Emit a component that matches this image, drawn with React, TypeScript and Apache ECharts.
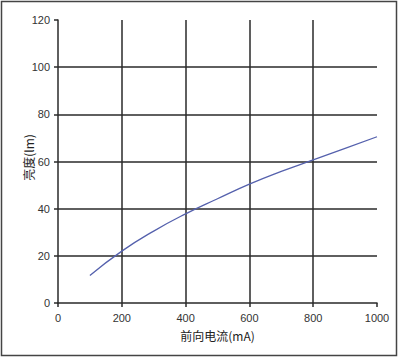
import React, { useEffect, useRef } from "react";
import * as echarts from "echarts";

const currents = [100, 200, 300, 400, 500, 600, 700, 800, 900, 1000];
const brightness = [11.7, 22, 30.5, 37.8, 44.2, 50.4, 55.8, 60.7, 65.6, 70.5];

export default function App() {
  const ref = useRef<HTMLDivElement>(null);
  useEffect(() => {
    if (!ref.current) return;
    const chart = echarts.init(ref.current, null, { renderer: "svg" });
    const axisColor = "#2a2a2a";
    chart.setOption({
      animation: false,
      backgroundColor: "#ffffff",
      grid: { left: 58, right: 23, top: 20, bottom: 55 },
      graphic: [
        {
          type: "rect",
          shape: { x: 1.5, y: 1.5, width: 395, height: 354 },
          style: { fill: "none", stroke: "#444", lineWidth: 1.5 },
          silent: true,
        },
      ],
      xAxis: {
        type: "value",
        min: 0,
        max: 1000,
        interval: 200,
        name: "前向电流(mA)",
        nameLocation: "middle",
        nameGap: 26,
        nameMoveOverlap: false,
        nameTextStyle: { fontFamily: "Noto Sans CJK SC", fontSize: 12, color: "#222" },
        axisLine: { show: true, lineStyle: { color: axisColor, width: 1.5 } },
        axisTick: { show: true, length: 4, lineStyle: { color: axisColor, width: 1.5 } },
        axisLabel: {
          margin: 9,
          fontFamily: "Liberation Sans",
          fontSize: 11,
          color: "#333",
          formatter: (v: number) => String(v),
        },
        splitLine: { show: true, showMinLine: false, showMaxLine: false, lineStyle: { color: axisColor, width: 1.5 } },
      },
      yAxis: {
        type: "value",
        min: 0,
        max: 120,
        interval: 20,
        name: "亮度(lm)",
        nameLocation: "middle",
        nameGap: 24,
        nameMoveOverlap: false,
        nameTextStyle: { fontFamily: "Noto Sans CJK SC", fontSize: 12, color: "#222", padding: [0, 0, 0, 8] },
        axisLine: { show: true, lineStyle: { color: axisColor, width: 1.5 } },
        axisTick: { show: true, length: 4, lineStyle: { color: axisColor, width: 1.5 } },
        axisLabel: { margin: 8, fontFamily: "Liberation Sans", fontSize: 11, color: "#333" },
        splitLine: { show: true, showMinLine: false, showMaxLine: false, lineStyle: { color: axisColor, width: 1.5 } },
      },
      series: [
        {
          type: "line",
          data: currents.map((c, i) => [c, brightness[i]]),
          smooth: true,
          showSymbol: false,
          lineStyle: { color: "#5561ad", width: 1.3 },
        },
      ],
    });
    return () => chart.dispose();
  }, []);
  return (
    <div
      ref={ref}
      style={{ position: "fixed", left: 0, top: 0, width: 400, height: 358, background: "#fff" }}
    />
  );
}
